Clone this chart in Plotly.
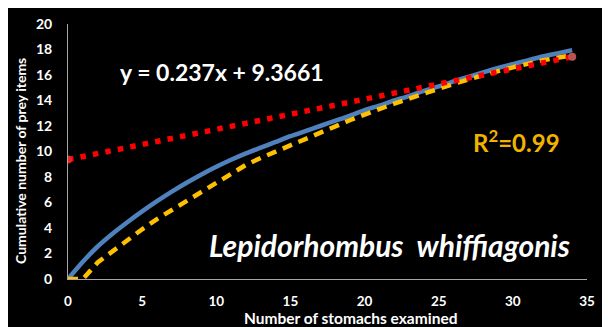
import plotly.graph_objects as go

# Data
stomachs = list(range(0, 35))
cumulative_prey = [0, 1.35, 2.55, 3.55, 4.45, 5.3, 6.1, 6.85, 7.55, 8.2,
                   8.8, 9.35, 9.85, 10.3, 10.75, 11.2, 11.6, 12.0, 12.4, 12.8,
                   13.25, 13.6, 14.0, 14.35, 14.75, 15.1, 15.5, 15.85, 16.2, 16.55,
                   16.85, 17.15, 17.45, 17.7, 17.95]
fitted_curve = [0, 0, 1.3, 2.2, 3.1, 3.9, 4.7, 5.4, 6.1, 6.8,
                7.5, 8.3, 8.95, 9.5, 10.0, 10.5, 11.0, 11.5, 12.0, 12.45,
                12.9, 13.35, 13.75, 14.15, 14.55, 14.95, 15.3, 15.65, 16.0, 16.3,
                16.6, 16.9, 17.15, 17.35, 17.55]
slope = 0.237
intercept = 9.3661
trend_x = [0, 34]
trend_y = [slope * v + intercept for v in trend_x]

x_ticks = [0, 5, 10, 15, 20, 25, 30, 35]
y_ticks = [0, 2, 4, 6, 8, 10, 12, 14, 16, 18, 20]

FONT = "Lato"
# screen position of plot area (page has an 8px body margin)
PX0, PW, PY0, PH = 68, 519, 279, 255


def px(xs):
    return (xs - PX0) / PW


def py(ys):
    return (PY0 - ys) / PH


fig = go.Figure()
fig.add_trace(go.Scatter(x=stomachs, y=cumulative_prey, mode="lines",
                         line=dict(color="#4f81bd", width=4.5, shape="spline", smoothing=0.6),
                         hoverinfo="skip"))
fig.add_trace(go.Scatter(x=stomachs, y=fitted_curve, mode="lines",
                         line=dict(color="#ffc000", width=4.5, dash="10px,7px"),
                         hoverinfo="skip"))
fig.add_trace(go.Scatter(x=trend_x, y=trend_y, mode="lines",
                         line=dict(color="#ff0000", width=5.5, dash="5.5px,7.2px"),
                         hoverinfo="skip"))
fig.add_trace(go.Scatter(x=trend_x, y=trend_y, mode="markers",
                         marker=dict(color=["#e8262a", "#b85450"], size=8),
                         hoverinfo="skip"))

ann = dict(xref="paper", yref="paper", showarrow=False, xanchor="center", yanchor="middle")

fig.update_layout(
    width=610, height=327,
    margin=dict(l=60, r=31, t=16, b=56, autoexpand=False),
    paper_bgcolor="black", plot_bgcolor="black",
    showlegend=False,
    font=dict(family=FONT, color="white"),
    xaxis=dict(range=[0, 35], tickvals=x_ticks, showgrid=False, zeroline=False,
               showline=True, linecolor="#a6a6a6", linewidth=1, automargin=False,
               ticks="", ticklabelstandoff=10,
               tickfont=dict(family=FONT, size=13.5, color="white", weight="bold")),
    yaxis=dict(range=[0, 20], tickvals=y_ticks, showgrid=False, zeroline=False,
               showline=True, linecolor="#a6a6a6", linewidth=1, automargin=False,
               ticks="", ticklabelstandoff=12,
               tickfont=dict(family=FONT, size=14, color="white", weight="bold")),
    annotations=[
        dict(ann, text="<b>y = 0.237x + 9.3661</b>", x=px(222), y=py(72),
             font=dict(family=FONT, size=23, color="white")),
        dict(ann, text="<b>R<sup>2</sup>=0.99</b>", x=px(516), y=py(141),
             font=dict(family=FONT, size=24, color="#f0b400")),
        dict(ann, text="<b><i>Lepidorhombus  whiffiagonis</i></b>", x=px(389), y=py(245),
             font=dict(family=FONT, size=30, color="white")),
        dict(ann, text="<b>Number of stomachs examined</b>", x=px(350), y=py(317.5),
             font=dict(family=FONT, size=15.5, color="white")),
        dict(ann, text="<b>Cumulative number of prey items</b>", x=px(20), y=py(161),
             textangle=-90, font=dict(family=FONT, size=14, color="white")),
    ],
)

fig.write_html("out.html")
